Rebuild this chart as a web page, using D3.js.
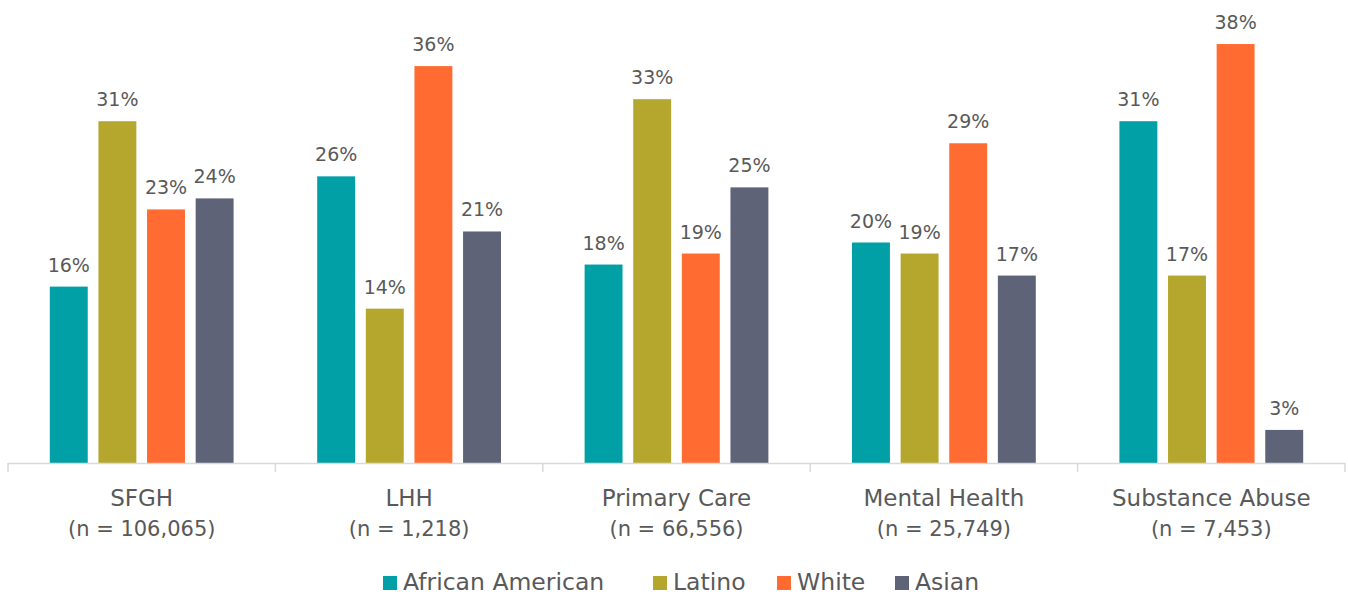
<!DOCTYPE html>
<html><head><meta charset="utf-8">
<script src="https://cdn.jsdelivr.net/npm/d3@7"></script>
<style>
html,body{margin:0;padding:0;background:#fff;}
text{font-family:"DejaVu Sans","Noto Sans",sans-serif;fill:#595959;}
</style></head>
<body><svg id="c" width="1348" height="598"></svg>
<script>
const categories = ["SFGH", "LHH", "Primary Care", "Mental Health", "Substance Abuse"];
const counts = ["(n = 106,065)", "(n = 1,218)", "(n = 66,556)", "(n = 25,749)", "(n = 7,453)"];
const series = ["African American", "Latino", "White", "Asian"];
const africanAmerican = [16, 26, 18, 20, 31];
const latino = [31, 14, 33, 19, 17];
const white = [23, 36, 19, 29, 38];
const asian = [24, 21, 25, 17, 3];
const colors = ["#00A0A6", "#B5A72D", "#FF6B31", "#5E6377"];

const values = [africanAmerican, latino, white, asian];
const svg = d3.select("#c");
const x0 = d3.scaleBand().domain(categories).range([8, 1345]).paddingInner(0).paddingOuter(0);
const x1 = d3.scaleBand().domain(series).range([0, x0.bandwidth()]).paddingInner(0.22).paddingOuter(0.86);
const y = d3.scaleLinear().domain([0, 40]).range([463, 22]);
const color = d3.scaleOrdinal().domain(series).range(colors);

const data = [];
categories.forEach((c, i) => series.forEach((s, j) => data.push({c, s, v: values[j][i]})));

svg.append("g").selectAll("rect").data(data).join("rect")
  .attr("x", d => x0(d.c) + x1(d.s))
  .attr("y", d => y(d.v))
  .attr("width", x1.bandwidth())
  .attr("height", d => y(0) - y(d.v))
  .attr("fill", d => color(d.s));

svg.append("g").selectAll("text").data(data).join("text")
  .attr("x", d => x0(d.c) + x1(d.s) + x1.bandwidth() / 2)
  .attr("y", d => y(d.v) - 15)
  .attr("text-anchor", "middle")
  .style("font-size", "19px")
  .text(d => d.v + "%");

// axis
const axis = svg.append("g");
axis.append("line").attr("x1", 8).attr("x2", 1345).attr("y1", y(0) + 0.5).attr("y2", y(0) + 0.5)
  .attr("stroke", "#d9d9d9").attr("stroke-width", 1.5);
const edges = categories.map(c => x0(c)).concat([x0.range()[1]]);
axis.selectAll("line.t").data(edges).join("line").attr("class", "t")
  .attr("x1", d => d).attr("x2", d => d).attr("y1", y(0)).attr("y2", y(0) + 9)
  .attr("stroke", "#d9d9d9").attr("stroke-width", 1.5);

const lab = svg.append("g").selectAll("text").data(categories).join("text")
  .attr("text-anchor", "middle");
lab.append("tspan").attr("x", c => x0(c) + x0.bandwidth() / 2).attr("y", 506)
  .style("font-size", "23px").text(c => c);
lab.append("tspan").attr("x", c => x0(c) + x0.bandwidth() / 2).attr("y", 536)
  .style("font-size", "21px").text((c, i) => counts[i]);

// legend
const legX = [383, 653, 777, 895];
const leg = svg.append("g").selectAll("g").data(series).join("g")
  .attr("transform", (s, i) => `translate(${legX[i]},576)`);
leg.append("rect").attr("width", 14).attr("height", 14).attr("fill", s => color(s));
leg.append("text").attr("x", 20).attr("y", 14).style("font-size", "23.5px").text(s => s);
</script></body></html>
